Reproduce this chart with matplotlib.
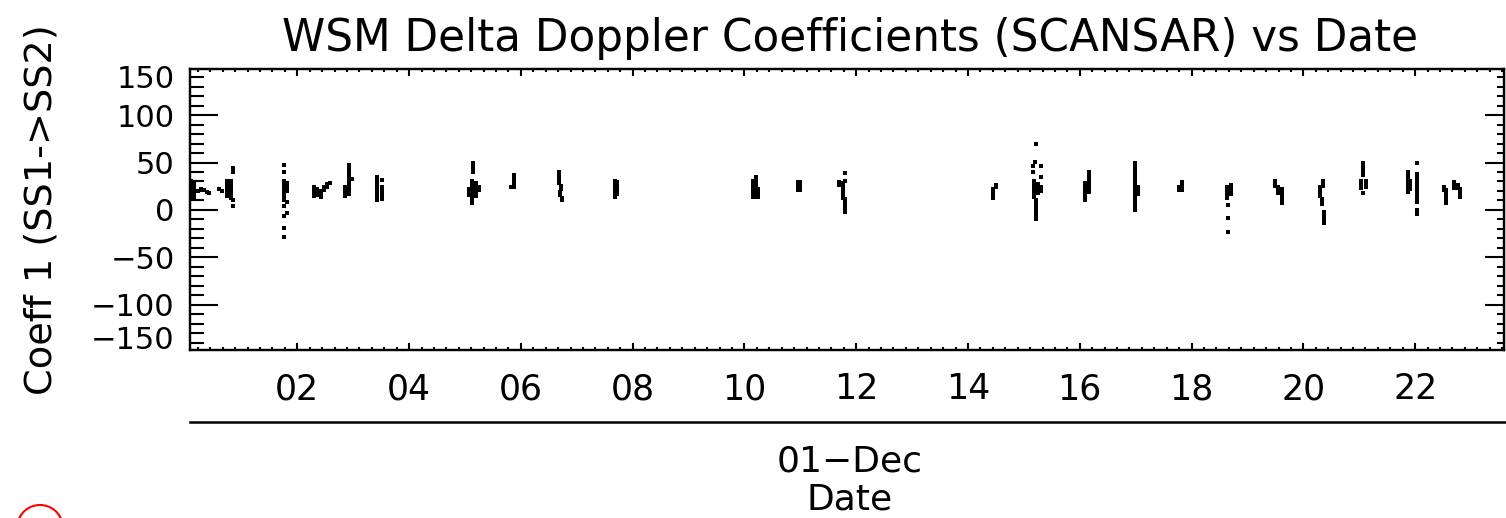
import matplotlib
matplotlib.use("Agg")
import matplotlib.pyplot as plt
from matplotlib.lines import Line2D
from matplotlib.patches import Arc
from matplotlib.ticker import MultipleLocator, FixedLocator, FixedFormatter

# time of each measurement, hours on 01-Dec
hours = [
    0.10, 0.10, 0.10, 0.10, 0.10, 0.10, 0.10, 0.10, 0.10, 0.10, 0.16, 0.16, 0.16, 0.16, 0.16, 0.16, 0.22, 0.28, 0.33, 0.38, 0.42,
    0.60, 0.65, 0.75, 0.75, 0.75, 0.75, 0.75, 0.75, 0.75, 0.75, 0.82, 0.82, 0.82, 0.82, 0.82, 0.82, 0.82, 0.82, 0.85, 0.85, 0.85, 0.85,
    1.76, 1.76, 1.76, 1.76, 1.76, 1.76, 1.76, 1.76, 1.76, 1.76, 1.76, 1.76, 1.76, 1.76, 1.76, 1.76, 1.82, 1.82, 1.82, 1.82, 1.82,
    2.30, 2.30, 2.30, 2.30, 2.36, 2.36, 2.36, 2.42, 2.42, 2.42, 2.48, 2.48, 2.53, 2.53, 2.58,
    2.93, 2.93, 2.93, 2.93, 2.93, 2.93, 2.93, 2.93, 2.93, 2.93, 2.93, 2.86, 2.86, 2.86, 2.86, 2.98,
    3.43, 3.43, 3.43, 3.43, 3.43, 3.43, 3.43, 3.43, 3.43, 3.52, 3.52, 3.52, 3.52, 3.52, 3.52,
    5.15, 5.15, 5.15, 5.15, 5.08, 5.08, 5.08, 5.13, 5.13, 5.13, 5.13, 5.13, 5.13, 5.13, 5.13, 5.13, 5.20, 5.20, 5.20, 5.20, 5.20, 5.25, 5.25,
    5.87, 5.87, 5.87, 5.87, 5.87, 5.82,
    6.68, 6.68, 6.68, 6.68, 6.68, 6.72, 6.72, 6.70, 6.70, 6.73, 6.73,
    7.68, 7.68, 7.68, 7.68, 7.68, 7.68, 7.68, 7.72, 7.72, 7.72, 7.72,
    10.15, 10.15, 10.15, 10.15, 10.15, 10.15, 10.15, 10.20, 10.20, 10.20, 10.20, 10.20, 10.20, 10.20, 10.20, 10.25, 10.25, 10.25, 10.25,
    10.96, 10.96, 10.96, 10.96, 11.00, 11.00, 11.00, 11.00,
    11.70, 11.70, 11.76, 11.76, 11.76, 11.76, 11.76, 11.76, 11.80, 11.80, 11.80, 11.80, 11.80, 11.80, 11.80,
    14.45, 14.45, 14.45, 14.45, 14.50, 14.50,
    15.21, 15.20, 15.17, 15.17, 15.30, 15.30, 15.18, 15.18, 15.18, 15.18, 15.18, 15.18, 15.18, 15.25, 15.25, 15.25, 15.25, 15.30, 15.30,
    15.21, 15.21, 15.21, 15.21, 15.21, 15.21,
    16.17, 16.17, 16.17, 16.17, 16.17, 16.17, 16.17, 16.17, 16.10, 16.10, 16.10, 16.10, 16.10, 16.10, 16.10,
    16.98, 16.98, 16.98, 16.98, 16.98, 16.98, 16.98, 16.98, 16.98, 16.98, 16.98, 16.98, 16.98, 16.98, 16.98, 16.98, 16.98, 17.04, 17.04, 17.04,
    17.82, 17.82, 17.82, 17.82, 17.78, 17.78,
    18.63, 18.63, 18.63, 18.63, 18.63, 18.70, 18.70, 18.70, 18.70, 18.65, 18.65, 18.65,
    19.50, 19.50, 19.50, 19.55, 19.55, 19.55, 19.61, 19.61, 19.61, 19.61, 19.61, 19.61,
    20.35, 20.35, 20.35, 20.29, 20.29, 20.29, 20.29, 20.34, 20.34, 20.34, 20.37, 20.37, 20.37, 20.37,
    21.07, 21.07, 21.07, 21.07, 21.04, 21.04, 21.04, 21.04, 21.12, 21.12, 21.12, 21.07,
    21.87, 21.87, 21.87, 21.87, 21.87, 21.87, 21.87, 21.87, 21.91, 21.91, 21.91, 21.91,
    22.04, 22.04, 22.04, 22.04, 22.04, 22.04, 22.04, 22.04, 22.04, 22.04, 22.04, 22.04,
    22.52, 22.52, 22.56, 22.56, 22.56, 22.56, 22.56, 22.56,
    22.70, 22.70, 22.70, 22.76, 22.76, 22.80, 22.80, 22.80, 22.80,
]

# delta doppler coefficient 1 (SS1->SS2)
coeff1 = [
    30, 28, 26, 24, 22, 20, 18, 16, 14, 12, 27, 24, 21, 18, 15, 12, 20, 22, 21, 19, 18,
    22, 20, 30, 28, 26, 24, 22, 20, 18, 15, 31, 29, 27, 25, 22, 19, 16, 13, 44, 40, 10, 4,
    47, 40, 31, 29, 27, 25, 23, 21, 19, 17, 15, 10, 4, -6, -19, -28, 28, 24, 20, 8, -3,
    24, 21, 18, 15, 22, 19, 16, 20, 17, 14, 24, 21, 27, 24, 28,
    47, 44, 41, 38, 35, 32, 29, 26, 23, 20, 17, 24, 21, 18, 15, 33,
    35, 32, 29, 26, 23, 20, 17, 14, 11, 32, 24, 21, 18, 15, 12,
    50, 47, 43, 40, 22, 19, 16, 31, 28, 25, 22, 19, 16, 13, 10, 7, 28, 25, 22, 19, 15, 24, 21,
    37, 33, 30, 27, 24, 24,
    40, 37, 34, 31, 28, 25, 22, 19, 16, 13, 10,
    31, 28, 25, 22, 19, 16, 14, 29, 25, 21, 17,
    31, 28, 25, 22, 19, 16, 14, 35, 32, 29, 26, 23, 20, 17, 14, 22, 19, 16, 14,
    29, 26, 23, 21, 29, 26, 23, 21,
    29, 26, 28, 25, 22, 19, 16, 13, 39, 31, 12, 8, 4, 0, -2,
    22, 19, 16, 13, 26, 24,
    70, 51, 46, 40, 46, 35, 31, 28, 25, 22, 19, 16, 14, 27, 24, 21, 18, 24, 20,
    10, 6, 2, -2, -6, -10,
    40, 37, 34, 31, 28, 25, 22, 19, 28, 25, 22, 19, 16, 13, 10,
    49, 46, 43, 40, 36, 32, 29, 26, 23, 20, 17, 14, 11, 8, 5, 2, 0, 24, 20, 17,
    29, 26, 23, 21, 24, 21,
    24, 21, 18, 15, 13, 26, 23, 20, 17, 5, -8, -23,
    31, 28, 25, 24, 21, 18, 22, 19, 16, 13, 10, 7,
    31, 28, 25, 24, 21, 18, 15, 12, 9, 6, -2, -6, -10, -14,
    49, 45, 41, 37, 31, 28, 25, 23, 30, 27, 24, 18,
    40, 37, 34, 31, 28, 25, 22, 19, 31, 28, 25, 22,
    49, 38, 34, 30, 26, 22, 18, 14, 10, 8, 0, -4,
    24, 21, 21, 18, 15, 12, 9, 7,
    29, 26, 23, 26, 23, 22, 19, 16, 14,
]

xtick_hours = [2, 4, 6, 8, 10, 12, 14, 16, 18, 20, 22]
xtick_labels = ["02", "04", "06", "08", "10", "12", "14", "16", "18", "20", "22"]
ytick_vals = [-100, -50, 0, 50, 100]
ytick_labels = ["\u2212100", "\u221250", "0", "50", "100"]

W, H = 1506, 518
fig = plt.figure(figsize=(W / 100, H / 100), dpi=100)
ax = fig.add_axes([190 / W, 1 - 350 / H, 1314 / W, 281 / H])

ax.plot(hours, coeff1, "s", color="black", markersize=2.2, markeredgewidth=0)

ax.set_xlim(0.08, 23.59)
ax.set_ylim(-147.5, 148.5)

ax.xaxis.set_major_locator(FixedLocator(xtick_hours))
ax.xaxis.set_major_formatter(FixedFormatter(xtick_labels))
ax.xaxis.set_minor_locator(MultipleLocator(2 / 9))
ax.yaxis.set_major_locator(FixedLocator(ytick_vals))
ax.yaxis.set_major_formatter(FixedFormatter(ytick_labels))
ax.yaxis.set_minor_locator(MultipleLocator(10))

for s in ax.spines.values():
    s.set_linewidth(1.6)

# right axis has shorter ticks than the left one
axr = ax.twinx()
axr.set_ylim(ax.get_ylim())
axr.yaxis.set_major_locator(FixedLocator(ytick_vals))
axr.yaxis.set_minor_locator(MultipleLocator(10))
axr.tick_params(axis="y", which="both", direction="in", width=1.5, labelright=False)
axr.tick_params(axis="y", which="major", length=13.5)
axr.tick_params(axis="y", which="minor", length=5)
for s in axr.spines.values():
    s.set_linewidth(1.6)

ax.tick_params(axis="x", which="both", direction="in", top=True, bottom=True, width=1.5, labelsize=25, pad=16)
ax.tick_params(axis="x", which="major", length=5)
ax.tick_params(axis="x", which="minor", length=2.5)
ax.tick_params(axis="y", which="both", direction="in", left=True, right=False, width=1.5, labelsize=22, pad=11)
ax.tick_params(axis="y", which="major", length=20)
ax.tick_params(axis="y", which="minor", length=10)

# end labels sit inside the range like the original
for v, lab in [(137, "150"), (-137, "\u2212150")]:
    ax.annotate(lab, xy=(0, v), xycoords=ax.get_yaxis_transform(), xytext=(-11, 0),
                textcoords="offset points", ha="right", va="center", fontsize=22)

fig.text(850 / W, 1 - 38 / H, "WSM Delta Doppler Coefficients (SCANSAR) vs Date",
         ha="center", va="center", fontsize=31.5)
fig.text(42 / W, 1 - 210 / H, "Coeff 1 (SS1->SS2)", rotation=90, ha="center", va="center", fontsize=27.5)

# second level of the date axis
fig.add_artist(Line2D([190 / W, 1.0], [1 - 422 / H, 1 - 422 / H], transform=fig.transFigure, color="black", lw=1.8))
fig.text(850 / W, 1 - 461 / H, "01\u2212Dec", ha="center", va="center", fontsize=26)
fig.text(850 / W, 1 - 500 / H, "Date", ha="center", va="center", fontsize=26)

fig.add_artist(Arc((40 / W, 1 - 528 / H), 46 / W, 46 / H, theta1=30, theta2=150,
                   transform=fig.transFigure, color="red", lw=1.5))

fig.savefig("out.png", dpi=100)
